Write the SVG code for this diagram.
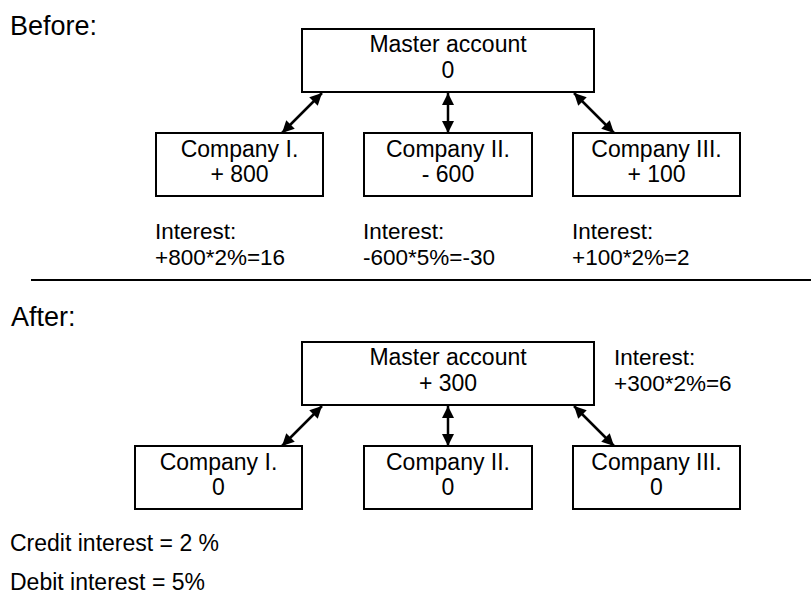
<svg xmlns="http://www.w3.org/2000/svg" width="811" height="594" viewBox="0 0 811 594">
<style>
text{font-family:"Liberation Sans",Arial,sans-serif;fill:#000}
.box{fill:#fff;stroke:#000;stroke-width:2}
.bt{font-size:23px;text-anchor:middle}
.it{font-size:22.5px}
.hd{font-size:27px}
.nt{font-size:23px}
.con{stroke:#000;stroke-width:2.5;fill:none;marker-start:url(#ah);marker-end:url(#ah)}
</style>
<defs>
<marker id="ah" markerUnits="userSpaceOnUse" markerWidth="14" markerHeight="14" viewBox="0 0 14 14" refX="13" refY="7" orient="auto-start-reverse">
<path d="M1,1 L13,7 L1,13 Z" fill="#000"/>
</marker>
</defs>
<rect width="811" height="594" fill="#fff"/>
<text class="hd" x="10" y="35">Before:</text>
<g id="before-master"><rect class="box" x="302" y="29" width="292" height="63"/><text class="bt" x="448" y="52">Master account</text><text class="bt" x="448" y="78">0</text></g>
<g id="before-c1"><rect class="box" x="156" y="133" width="167" height="63"/><text class="bt" x="239.5" y="157">Company I.</text><text class="bt" x="239.5" y="182">+ 800</text></g>
<g id="before-c2"><rect class="box" x="364" y="133" width="168" height="63"/><text class="bt" x="448" y="157">Company II.</text><text class="bt" x="448" y="182">- 600</text></g>
<g id="before-c3"><rect class="box" x="573" y="133" width="167" height="63"/><text class="bt" x="656.5" y="157">Company III.</text><text class="bt" x="656.5" y="182">+ 100</text></g>
<g id="before-interest">
<text class="it" x="155" y="239">Interest:</text><text class="it" x="155" y="265">+800*2%=16</text>
<text class="it" x="363" y="239">Interest:</text><text class="it" x="363" y="265">-600*5%=-30</text>
<text class="it" x="572" y="239">Interest:</text><text class="it" x="572" y="265">+100*2%=2</text>
</g>
<line x1="31" y1="280" x2="811" y2="280" stroke="#000" stroke-width="2"/>
<text class="hd" x="11" y="326">After:</text>
<g id="after-master"><rect class="box" x="302" y="342" width="292" height="63"/><text class="bt" x="448" y="365">Master account</text><text class="bt" x="448" y="391">+ 300</text></g>
<g id="after-interest"><text class="it" x="614" y="365">Interest:</text><text class="it" x="614" y="391">+300*2%=6</text></g>
<g id="after-c1"><rect class="box" x="135" y="446" width="167" height="63"/><text class="bt" x="218.5" y="470">Company I.</text><text class="bt" x="218.5" y="495">0</text></g>
<g id="after-c2"><rect class="box" x="364" y="446" width="168" height="63"/><text class="bt" x="448" y="470">Company II.</text><text class="bt" x="448" y="495">0</text></g>
<g id="after-c3"><rect class="box" x="573" y="446" width="167" height="63"/><text class="bt" x="656.5" y="470">Company III.</text><text class="bt" x="656.5" y="495">0</text></g>
<g id="connectors">
<line class="con" x1="322" y1="93" x2="282" y2="133"/>
<line class="con" x1="448" y1="93" x2="448" y2="133"/>
<line class="con" x1="574" y1="93" x2="614" y2="133"/>
<line class="con" x1="322" y1="406" x2="282" y2="446"/>
<line class="con" x1="448" y1="406" x2="448" y2="446"/>
<line class="con" x1="574" y1="406" x2="614" y2="446"/>
</g>
<g id="notes"><text class="nt" x="10" y="551">Credit interest = 2 %</text><text class="nt" x="10" y="590">Debit interest = 5%</text></g>
</svg>
